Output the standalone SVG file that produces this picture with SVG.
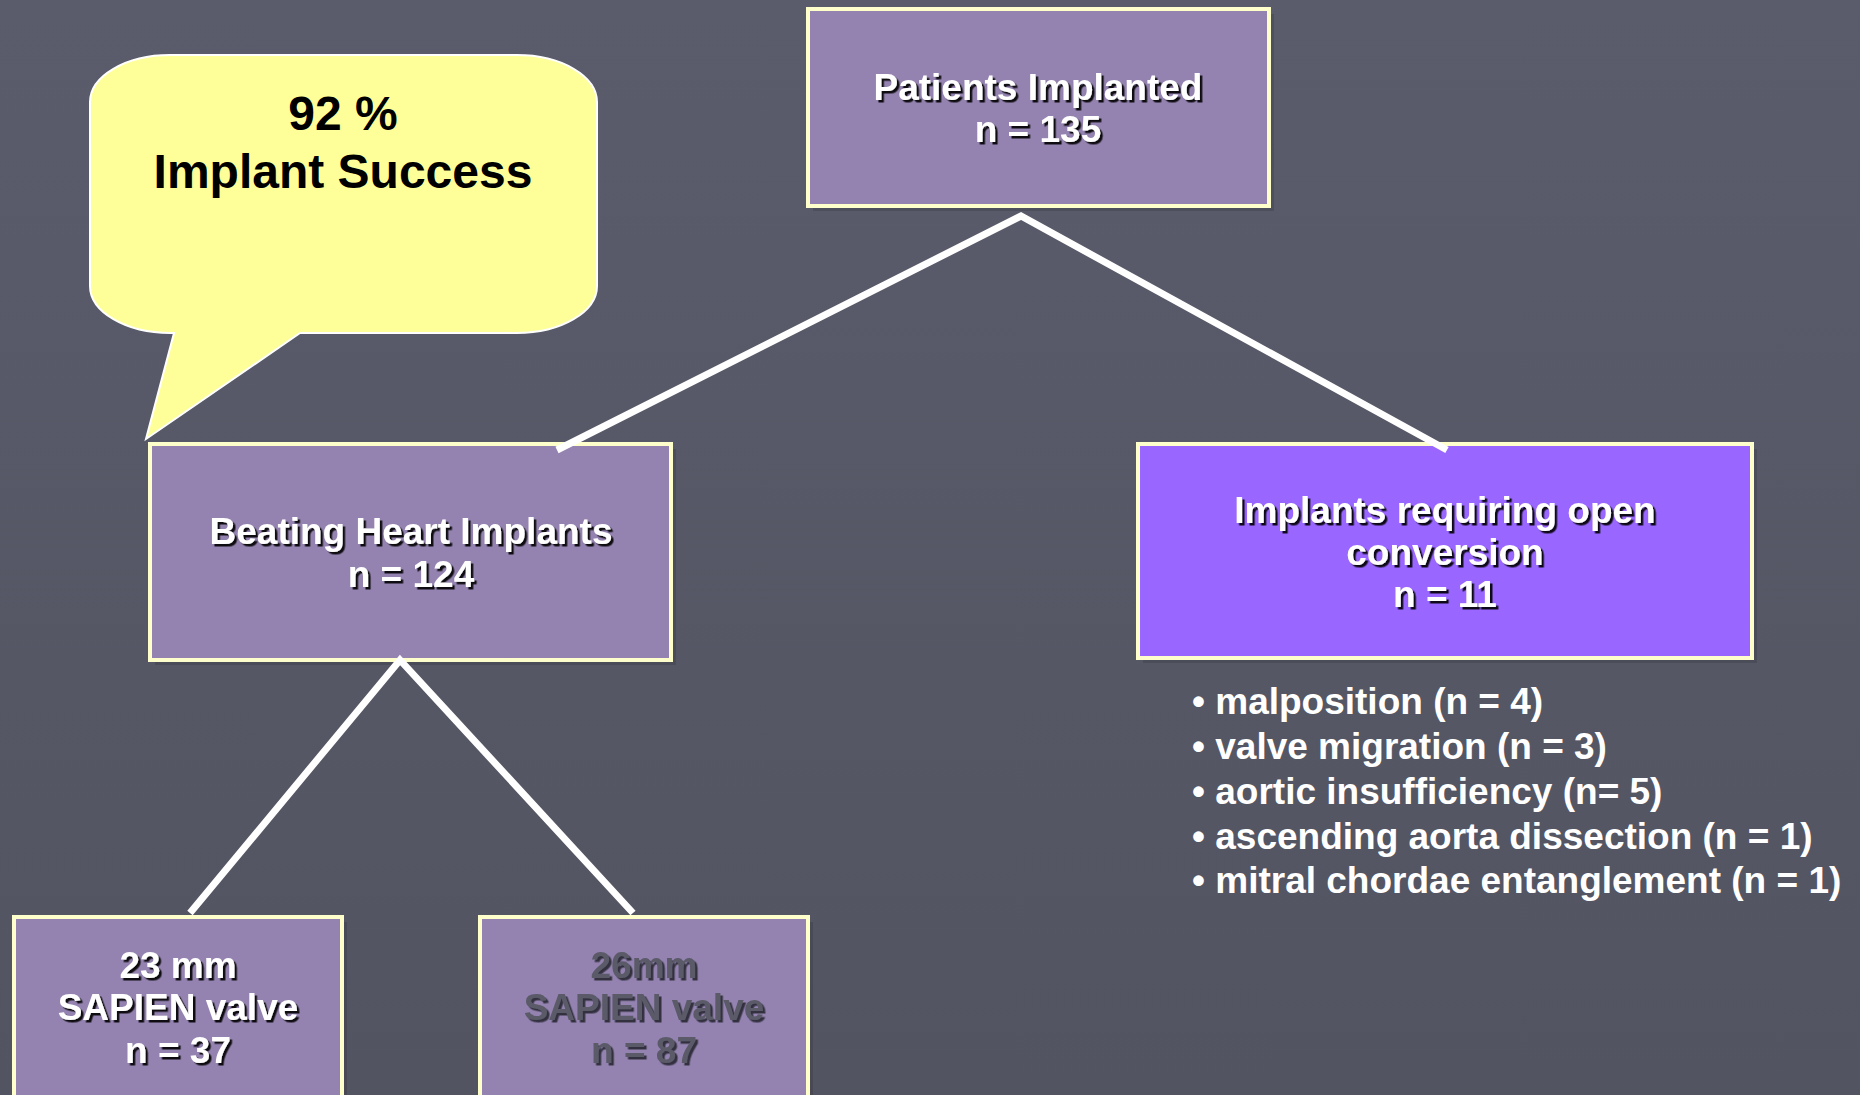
<svg xmlns="http://www.w3.org/2000/svg" width="1860" height="1095" viewBox="0 0 1860 1095">
  <defs>
    <linearGradient id="bg" x1="0" y1="0" x2="0" y2="1">
      <stop offset="0" stop-color="#5a5c6c"/>
      <stop offset="1" stop-color="#525461"/>
    </linearGradient>
    <filter id="ts" x="-10%" y="-30%" width="120%" height="160%">
      <feDropShadow dx="2.5" dy="2.5" stdDeviation="0.4" flood-color="#000" flood-opacity="0.9"/>
    </filter>
    <filter id="ts2" x="-10%" y="-30%" width="120%" height="160%">
      <feDropShadow dx="2.5" dy="2.5" stdDeviation="0.4" flood-color="#2a2a34" flood-opacity="0.9"/>
    </filter>
    <style>
      .box { fill: #9483b0; stroke: #ffffcc; stroke-width: 4; }
      .box2 { fill: #9966ff; stroke: #ffffcc; stroke-width: 4; }
      .shadow { fill: #000; opacity: 0.12; }
      .lbl { font-family: "Liberation Sans", Arial, sans-serif; font-weight: bold; font-size: 37px; fill: #ffffff; text-anchor: middle; }
      .dark { fill: #5a5a68; }
      .bul { font-family: "Liberation Sans", Arial, sans-serif; font-weight: bold; font-size: 37px; fill: #ffffff; }
      .call { font-family: "Liberation Sans", Arial, sans-serif; font-weight: bold; font-size: 48px; fill: #000000; text-anchor: middle; }
      .conn { fill: none; stroke: #ffffff; stroke-width: 7; stroke-linejoin: miter; }
    </style>
  </defs>

  <rect x="0" y="0" width="1860" height="1095" fill="url(#bg)"/>

  <g id="callout">
    <path d="M 170,55 H 517 A 80 47 0 0 1 597,102 V 286 A 80 47 0 0 1 517,333 H 300 L 146,439 L 174,333 H 170 A 80 47 0 0 1 90,286 V 102 A 80 47 0 0 1 170,55 Z" fill="#ffff99" stroke="#ffffff" stroke-width="2"/>
    <text class="call" x="343" y="130" font-size="54">92 %</text>
    <text class="call" x="343" y="188">Implant Success</text>
  </g>

  <g id="patients-implanted">
    <rect class="shadow" x="813" y="14" width="461" height="197"/>
    <rect class="box" x="808" y="9" width="461" height="197"/>
    <text class="lbl" x="1038" y="100" filter="url(#ts)">Patients Implanted</text>
    <text class="lbl" x="1038" y="142" filter="url(#ts)">n = 135</text>
  </g>

  <g id="beating-heart">
    <rect class="shadow" x="155" y="449" width="521" height="216"/>
    <rect class="box" x="150" y="444" width="521" height="216"/>
    <text class="lbl" x="411" y="544" filter="url(#ts)">Beating Heart Implants</text>
    <text class="lbl" x="411" y="587" filter="url(#ts)">n = 124</text>
  </g>

  <g id="open-conversion">
    <rect class="shadow" x="1143" y="449" width="614" height="214"/>
    <rect class="box2" x="1138" y="444" width="614" height="214"/>
    <text class="lbl" x="1445" y="523" filter="url(#ts)">Implants requiring open</text>
    <text class="lbl" x="1445" y="565" filter="url(#ts)">conversion</text>
    <text class="lbl" x="1445" y="607" filter="url(#ts)">n = 11</text>
  </g>

  <g id="reasons">
    <text class="bul" x="1192" y="714">• malposition (n = 4)</text>
    <text class="bul" x="1192" y="759">• valve migration (n = 3)</text>
    <text class="bul" x="1192" y="804">• aortic insufficiency (n= 5)</text>
    <text class="bul" x="1192" y="849">• ascending aorta dissection (n = 1)</text>
    <text class="bul" x="1192" y="893">• mitral chordae entanglement (n = 1)</text>
  </g>

  <g id="valve-23">
    <rect class="shadow" x="19" y="922" width="328" height="200"/>
    <rect class="box" x="14" y="917" width="328" height="200"/>
    <text class="lbl" x="178" y="978" filter="url(#ts)">23 mm</text>
    <text class="lbl" x="178" y="1020" filter="url(#ts)">SAPIEN valve</text>
    <text class="lbl" x="178" y="1063" filter="url(#ts)">n = 37</text>
  </g>

  <g id="valve-26">
    <rect class="shadow" x="485" y="922" width="328" height="200"/>
    <rect class="box" x="480" y="917" width="328" height="200"/>
    <text class="lbl dark" x="644" y="978" filter="url(#ts2)">26mm</text>
    <text class="lbl dark" x="644" y="1020" filter="url(#ts2)">SAPIEN valve</text>
    <text class="lbl dark" x="644" y="1063" filter="url(#ts2)">n = 87</text>
  </g>

  <g id="connectors">
    <polyline class="conn" points="557,450 1021,216 1447,450"/>
    <polyline class="conn" points="190,913 400,660 633,913"/>
  </g>
</svg>
